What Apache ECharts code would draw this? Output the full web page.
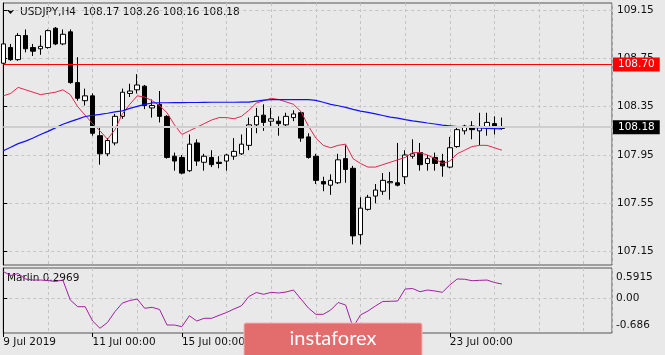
<!DOCTYPE html>
<html>
<head>
<meta charset="utf-8">
<title>USDJPY H4</title>
<script src="https://cdn.jsdelivr.net/npm/echarts@6/dist/echarts.min.js"></script>
<style>
  html, body { margin: 0; padding: 0; background: #e9e9e9; }
  #chart { width: 665px; height: 355px; }
</style>
</head>
<body>
<div id="chart"></div>
<script>
  // USDJPY H4, bar 0 = 9 Jul 2019 00:00, one bar every 4 hours
  const symbol = 'USDJPY,H4'
  const opens = [
    108.71, 108.84, 108.74, 108.94, 108.84, 108.83, 108.84, 109.00, 108.87, 108.97,
    108.55, 108.40, 108.44, 108.11, 107.96, 108.05, 108.27, 108.46, 108.49, 108.52,
    108.34, 108.37, 108.27, 107.94, 107.93, 107.82, 108.05, 107.89, 107.93, 107.89,
    107.90, 107.94, 107.96, 108.03, 108.20, 108.28, 108.23, 108.23, 108.20, 108.26,
    108.30, 108.10, 107.94, 107.73, 107.70, 107.72, 107.92, 107.84, 107.29, 107.50,
    107.61, 107.65, 107.72, 107.72, 107.77, 107.94, 107.97, 107.88, 107.93, 107.90,
    107.85, 108.02, 108.15, 108.19, 108.15, 108.18, 108.21, 108.17
  ]
  const highs = [
    108.91, 108.87, 108.96, 108.99, 108.87, 108.94, 108.99, 109.01, 108.99, 108.99,
    108.76, 108.50, 108.46, 108.18, 108.09, 108.29, 108.50, 108.54, 108.62, 108.53,
    108.41, 108.48, 108.28, 107.97, 107.95, 108.12, 108.08, 107.96, 107.99, 107.94,
    107.96, 108.09, 108.12, 108.26, 108.34, 108.37, 108.34, 108.27, 108.30, 108.32,
    108.31, 108.13, 107.96, 107.77, 107.79, 107.96, 108.03, 107.86, 107.60, 107.62,
    107.71, 107.80, 107.81, 108.05, 107.99, 108.08, 108.05, 107.95, 107.97, 107.96,
    108.10, 108.19, 108.20, 108.23, 108.30, 108.30, 108.27, 108.26
  ]
  const lows = [
    108.70, 108.73, 108.73, 108.80, 108.77, 108.78, 108.83, 108.86, 108.86, 108.54,
    108.40, 108.36, 108.11, 107.87, 107.94, 108.03, 108.25, 108.43, 108.46, 108.33,
    108.26, 108.22, 107.92, 107.82, 107.79, 107.81, 107.86, 107.82, 107.85, 107.84,
    107.82, 107.91, 107.95, 107.99, 108.13, 108.15, 108.19, 108.11, 108.18, 108.23,
    108.06, 107.92, 107.71, 107.65, 107.62, 107.71, 107.72, 107.21, 107.21, 107.49,
    107.55, 107.62, 107.58, 107.69, 107.71, 107.92, 107.82, 107.82, 107.82, 107.77,
    107.84, 108.01, 108.12, 108.08, 108.03, 108.11, 108.12, 108.16
  ]
  const closes = [
    108.87, 108.74, 108.94, 108.83, 108.81, 108.85, 108.98, 108.87, 108.95, 108.55,
    108.42, 108.44, 108.13, 107.96, 108.07, 108.27, 108.47, 108.48, 108.53, 108.36,
    108.36, 108.27, 107.93, 107.90, 107.80, 108.04, 107.90, 107.94, 107.87, 107.88,
    107.95, 107.98, 108.04, 108.20, 108.27, 108.22, 108.25, 108.21, 108.27, 108.29,
    108.09, 107.93, 107.74, 107.71, 107.74, 107.91, 107.83, 107.28, 107.51, 107.60,
    107.66, 107.74, 107.73, 107.70, 107.95, 107.96, 107.87, 107.92, 107.88, 107.86,
    108.01, 108.16, 108.19, 108.16, 108.18, 108.22, 108.18, 108.18
  ]
  // red moving average
  const maFast = [
    108.44, 108.46, 108.51, 108.49, 108.47, 108.45, 108.46, 108.47, 108.49, 108.45,
    108.35, 108.28, 108.21, 108.15, 108.08, 108.16, 108.29, 108.37, 108.44, 108.43,
    108.40, 108.36, 108.30, 108.20, 108.12, 108.15, 108.18, 108.21, 108.24, 108.26,
    108.26, 108.25, 108.27, 108.32, 108.38, 108.40, 108.42, 108.41, 108.39, 108.37,
    108.31, 108.19, 108.09, 108.03, 108.01, 108.03, 108.04, 107.92, 107.88, 107.85,
    107.85, 107.87, 107.89, 107.91, 107.93, 107.97, 107.97, 107.95, 107.92, 107.88,
    107.90, 107.96, 107.99, 108.02, 108.03, 108.03, 108.01, 107.99
  ]
  // blue moving average
  const maSlow = [
    107.985, 108.014, 108.044, 108.065, 108.091, 108.120, 108.146, 108.175, 108.205, 108.226,
    108.247, 108.269, 108.279, 108.287, 108.296, 108.307, 108.315, 108.336, 108.353, 108.370,
    108.381, 108.383, 108.383, 108.384, 108.384, 108.385, 108.385, 108.386, 108.387, 108.387,
    108.387, 108.387, 108.388, 108.388, 108.396, 108.404, 108.409, 108.409, 108.409, 108.409,
    108.409, 108.409, 108.402, 108.387, 108.370, 108.358, 108.345, 108.328, 108.313, 108.303,
    108.290, 108.277, 108.264, 108.255, 108.243, 108.232, 108.224, 108.215, 108.207, 108.198,
    108.192, 108.186, 108.182, 108.178, 108.175, 108.171, 108.169, 108.167
  ]
  const marlin = [
    0.556, 0.473, 0.515, 0.400, 0.379, 0.379, 0.369, 0.349, 0.379, -0.035,
    -0.174, -0.174, -0.471, -0.622, -0.502, -0.278, -0.098, -0.046, -0.015, -0.207,
    -0.187, -0.232, -0.554, -0.554, -0.589, -0.361, -0.471, -0.415, -0.415, -0.353,
    -0.295, -0.222, -0.156, 0.037, 0.120, 0.083, 0.124, 0.110, 0.131, 0.172,
    -0.015, -0.201, -0.332, -0.332, -0.243, -0.087, -0.139, -0.600, -0.346, -0.264,
    -0.160, -0.066, -0.062, -0.056, 0.193, 0.203, 0.137, 0.172, 0.152, 0.124,
    0.276, 0.401, 0.396, 0.365, 0.373, 0.379, 0.328, 0.2969
  ]
  const levelPrice = 108.70
  const priceTicks = [107.15, 107.55, 107.95, 108.35, 108.75, 109.15]
  const timeTickBars = [0, 12, 24, 60]
  const timeLabels = ['9 Jul 2019', '11 Jul 00:00', '15 Jul 00:00', '23 Jul 00:00']
  const marlinLabels = ['0.5915', '0.00', '-0.686']

  const font = 'DejaVu Sans'
  const textColor = '#111'
  const last = closes.length - 1

  // where the marlin scale labels sit (MT4 keeps max/min labels inside the pane)
  const marlinLabelPos = [0.436, 0, -0.568]

  const idx = closes.map((_, i) => i)
  const candles = idx.map((i) => [i, opens[i], closes[i], lows[i], highs[i]])
  const fastLine = idx.map((i) => [i, maFast[i]])
  const slowLine = idx.map((i) => [i, maSlow[i]])
  const marlinLine = idx.map((i) => [i, marlin[i]])

  const dashed = { show: true, lineStyle: { color: '#c4c4c4', type: [3, 3], width: 1 } }
  const xRange = { min: 0, max: 81.8 }

  const priceTag = (bg) => ({
    show: true,
    position: 'end',
    distance: 1,
    formatter: (p) => p.value.toFixed(2),
    color: '#fff',
    backgroundColor: bg,
    padding: [1, 5, 1, 5],
    lineHeight: 12,
    fontFamily: font,
    fontSize: 10.5
  })

  const chart = echarts.init(document.getElementById('chart'))

  const option = {
    animation: false,
    backgroundColor: '#e9e9e9',
    grid: [
      { left: 3.3, top: 3, width: 608.7, height: 262, show: true, borderColor: '#555', borderWidth: 1 },
      { left: 3.3, top: 268, width: 608.7, height: 65, show: true, borderColor: '#555', borderWidth: 1 }
    ],
    xAxis: [
      {
        gridIndex: 0, type: 'value', ...xRange, interval: 6,
        axisLine: { show: false }, axisTick: { show: false }, axisLabel: { show: false },
        splitLine: dashed
      },
      {
        gridIndex: 1, type: 'value', position: 'top', ...xRange, interval: 6,
        axisLine: { show: false }, axisTick: { show: false }, axisLabel: { show: false },
        splitLine: dashed
      },
      {
        gridIndex: 1, type: 'value', position: 'bottom', ...xRange,
        axisLine: { show: false },
        axisTick: { customValues: timeTickBars, length: 4, lineStyle: { color: '#000' } },
        axisLabel: {
          customValues: timeTickBars,
          formatter: (v) => timeLabels[timeTickBars.indexOf(Math.round(v))] || '',
          align: 'left', margin: 4,
          color: textColor, fontFamily: font, fontSize: 10.5
        },
        splitLine: { show: false }
      }
    ],
    yAxis: [
      {
        gridIndex: 0, type: 'value', position: 'right',
        min: 107.039, max: 109.209,
        axisLine: { show: true, lineStyle: { color: '#000' } },
        axisTick: { customValues: priceTicks, length: 4, lineStyle: { color: '#000' } },
        axisLabel: {
          customValues: priceTicks,
          formatter: (v) => v.toFixed(2),
          margin: 5, color: textColor, fontFamily: font, fontSize: 10.5
        },
        splitLine: dashed
      },
      {
        gridIndex: 1, type: 'value', position: 'right',
        min: -0.72, max: 0.629,
        axisLine: { show: true, lineStyle: { color: '#000' } },
        axisTick: { customValues: [0], length: 4, lineStyle: { color: '#000' } },
        axisLabel: {
          customValues: marlinLabelPos,
          formatter: (v) => {
            let k = 0
            marlinLabelPos.forEach((p, j) => { if (Math.abs(p - v) < Math.abs(marlinLabelPos[k] - v)) k = j })
            return marlinLabels[k]
          },
          margin: 4, color: textColor, fontFamily: font, fontSize: 10.5
        },
        splitLine: dashed
      }
    ],
    series: [
      {
        // bid line sits under the candles
        name: 'bid', type: 'line', xAxisIndex: 0, yAxisIndex: 0, data: [], z: 1,
        markLine: {
          silent: true, symbol: ['none', 'none'],
          data: [{ yAxis: closes[last], lineStyle: { color: '#cfcfcf', width: 2, type: 'solid' }, label: priceTag('#000') }]
        }
      },
      {
        name: symbol, type: 'candlestick', xAxisIndex: 0, yAxisIndex: 0,
        data: candles, barWidth: 5, z: 2,
        itemStyle: { color: '#fff', color0: '#000', borderColor: '#000', borderColor0: '#000', borderWidth: 1 },
        markLine: {
          silent: true, symbol: ['none', 'none'],
          data: [{ yAxis: levelPrice, lineStyle: { color: '#ff0000', width: 1, type: 'solid' }, label: priceTag('#ff0000') }]
        }
      },
      {
        name: 'MA fast', type: 'line', xAxisIndex: 0, yAxisIndex: 0, data: fastLine, z: 3,
        showSymbol: false, lineStyle: { color: '#e0284f', width: 1 }
      },
      {
        name: 'MA slow', type: 'line', xAxisIndex: 0, yAxisIndex: 0, data: slowLine, z: 3,
        showSymbol: false, lineStyle: { color: '#1010ff', width: 1.2 }
      },
      {
        name: 'Marlin', type: 'line', xAxisIndex: 1, yAxisIndex: 1, data: marlinLine, z: 3,
        showSymbol: false, lineStyle: { color: '#a020a0', width: 1 }
      }
    ],
    graphic: [
      { type: 'polygon', shape: { points: [[7, 10], [14, 10], [10.5, 14]] }, style: { fill: '#000' } },
      {
        type: 'text', x: 20, y: 12.5,
        style: {
          text: symbol + '  ' + [opens[last], highs[last], lows[last], closes[last]].map((v) => v.toFixed(2)).join(' '),
          fill: textColor, font: '10.5px "' + font + '"', verticalAlign: 'middle'
        }
      },
      {
        type: 'text', x: 7, y: 278,
        style: { text: 'Marlin ' + marlin[last].toFixed(4), fill: textColor, font: '10.5px "' + font + '"', verticalAlign: 'middle' }
      },
      // instaforex watermark
      {
        type: 'rect', z: 100,
        shape: { x: 244, y: 323, width: 178, height: 34, r: 2 },
        style: { fill: '#e36c6c', stroke: '#f2b2b2', lineWidth: 1 }
      },
      {
        type: 'text', z: 101, x: 333, y: 339,
        style: { text: 'instaforex', fill: '#fff', font: '20px Lato', align: 'center', verticalAlign: 'middle' }
      }
    ]
  }

  chart.setOption(option)
</script>
</body>
</html>
